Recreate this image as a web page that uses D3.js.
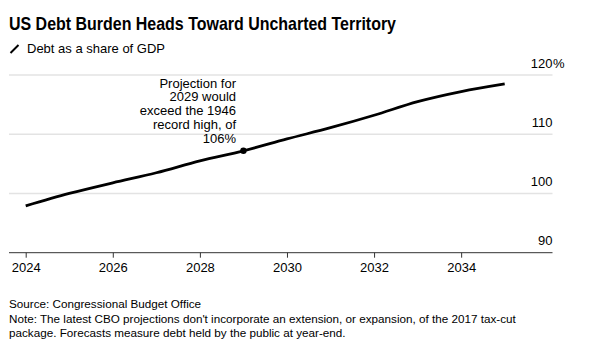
<!DOCTYPE html>
<html>
<head>
<meta charset="utf-8">
<script src="https://cdn.jsdelivr.net/npm/d3@7"></script>
<style>
  html, body { margin: 0; padding: 0; background: #fff; }
  svg { display: block; font-family: "Liberation Sans", Arial, Helvetica, sans-serif; }
</style>
</head>
<body>
<svg id="chart" width="601" height="356"></svg>
<script>
// ---- data ----
const years = [2024, 2025, 2026, 2027, 2028, 2029, 2030, 2031, 2032, 2033, 2034, 2035];
const debtShare = [97.9, 100.0, 101.8, 103.5, 105.5, 107.2, 109.2, 111.1, 113.2, 115.5, 117.2, 118.5];
const yTicks = [90, 100, 110, 120];
const xTicks = [2024, 2026, 2028, 2030, 2032, 2034];
const highlightYear = 2029;
const titleText = "US Debt Burden Heads Toward Uncharted Territory";
const subtitleText = "Debt as a share of GDP";
const annotationLines = ["Projection for", "2029 would", "exceed the 1946", "record high, of", "106%"];
const footerLines = [
  "Source: Congressional Budget Office",
  "Note: The latest CBO projections don't incorporate an extension, or expansion, of the 2017 tax-cut",
  "package. Forecasts measure debt held by the public at year-end."
];

// ---- layout ----
const svg = d3.select("#chart");
const left = 9, right = 552.5;
const x = d3.scaleLinear().domain([2024, 2035]).range([25.7, 504.7]);
const y = d3.scaleLinear().domain([90, 120]).range([252.7, 75]);

// title
const title = svg.append("text").attr("x", 9).attr("y", 30)
  .attr("font-size", 18.5).attr("font-weight", "bold").attr("fill", "#000")
  .text(titleText);
const tw = title.node().getComputedTextLength();
if (tw > 387) title.attr("textLength", 387).attr("lengthAdjust", "spacingAndGlyphs");

// subtitle with line icon
svg.append("line").attr("x1", 10.5).attr("y1", 53).attr("x2", 18.5).attr("y2", 45)
  .attr("stroke", "#000").attr("stroke-width", 2);
svg.append("text").attr("x", 27).attr("y", 53).attr("font-size", 13).attr("fill", "#000")
  .text(subtitleText);

// gridlines
svg.append("g").selectAll("line").data(yTicks.filter(d => d !== 90)).join("line")
  .attr("x1", left).attr("x2", right)
  .attr("y1", d => y(d)).attr("y2", d => y(d))
  .attr("stroke", "#e3e3e3").attr("stroke-width", 1.5);

// y labels
const yl = svg.append("g");
yl.selectAll("text").data(yTicks).join("text")
  .attr("x", right).attr("y", d => y(d) - 7.5)
  .attr("text-anchor", "end").attr("font-size", 13).attr("fill", "#000")
  .text(d => d);
yl.append("text").attr("x", right + 0.5).attr("y", y(120) - 7.5)
  .attr("font-size", 13).attr("fill", "#000").text("%");

// x axis
const xAxis = d3.axisBottom(x).tickValues(xTicks).tickSize(5).tickPadding(5).tickFormat(d3.format("d"));
const gx = svg.append("g").attr("transform", `translate(0,${y(90)})`).call(xAxis);
gx.select(".domain").remove();
gx.selectAll(".tick line").attr("stroke", "#333").attr("stroke-width", 1);
gx.selectAll(".tick text").attr("font-size", 13).attr("fill", "#000")
  .attr("font-family", "Liberation Sans, Arial, sans-serif");
svg.append("line").attr("x1", left).attr("x2", right)
  .attr("y1", y(90)).attr("y2", y(90)).attr("stroke", "#333").attr("stroke-width", 1);

// line
const data = years.map((yr, i) => ({ yr, v: debtShare[i] }));
svg.append("path").datum(data)
  .attr("fill", "none").attr("stroke", "#000").attr("stroke-width", 2.8)
  .attr("stroke-linejoin", "round")
  .attr("d", d3.line().x(d => x(d.yr)).y(d => y(d.v)).curve(d3.curveMonotoneX));

// highlight point
const hp = data.find(d => d.yr === highlightYear);
svg.append("circle").attr("cx", x(hp.yr)).attr("cy", y(hp.v)).attr("r", 3.2).attr("fill", "#000");

// annotation
svg.append("g").selectAll("text").data(annotationLines).join("text")
  .attr("x", 236).attr("y", (d, i) => 87.5 + i * 13.8)
  .attr("text-anchor", "end").attr("font-size", 13).attr("fill", "#000")
  .text(d => d);

// footer
svg.append("g").selectAll("text").data(footerLines).join("text")
  .attr("x", 9).attr("y", (d, i) => 308 + i * 14.5)
  .attr("font-size", 11.7).attr("fill", "#000")
  .text(d => d);
</script>
</body>
</html>
